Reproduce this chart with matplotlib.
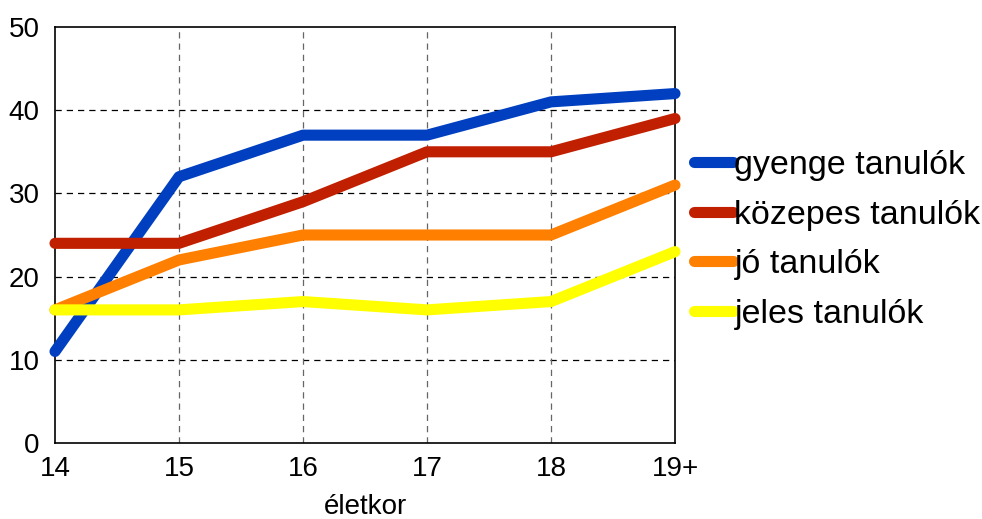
import matplotlib.pyplot as plt

plt.rcParams['font.family'] = ['Liberation Sans', 'DejaVu Sans']

# --- adatok ---
eletkor = ['14', '15', '16', '17', '18', '19+']
gyenge = [11, 32, 37, 37, 41, 42]
kozepes = [24, 24, 29, 35, 35, 39]
jo = [16, 22, 25, 25, 25, 31]
jeles = [16, 16, 17, 16, 17, 23]

sorozatok = [
    ('gyenge tanulók', gyenge, '#0040c0'),
    ('közepes tanulók', kozepes, '#c02000'),
    ('jó tanulók', jo, '#ff8000'),
    ('jeles tanulók', jeles, '#ffff00'),
]

fig = plt.figure(figsize=(9.82, 5.19), dpi=100)
ax = fig.add_axes([55 / 982, 1 - 443 / 519, 620 / 982, 416 / 519])

x = range(len(eletkor))
for nev, ertek, szin in sorozatok:
    ax.plot(x, ertek, color=szin, linewidth=8, solid_capstyle='round',
            solid_joinstyle='round', label=nev, clip_on=False, zorder=3)

ax.set_xlim(0, len(eletkor) - 1)
ax.set_ylim(0, 50)
ax.set_xticks(list(x))
ax.set_xticklabels(eletkor)
ax.set_yticks(range(0, 51, 10))
ax.tick_params(length=0, labelsize=20)
ax.tick_params(axis='y', pad=11)
ax.tick_params(axis='x', pad=9)

# rácsvonalak
for yv in range(10, 50, 10):
    ax.axhline(yv, color='black', linestyle=(0, (5, 4)), linewidth=0.9, zorder=1)
for xv in range(1, len(eletkor) - 1):
    ax.axvline(xv, color='#666666', linestyle=(0, (5, 4)), linewidth=0.9, zorder=1)

for s in ax.spines.values():
    s.set_linewidth(1.2)
    s.set_color('black')

ax.set_xlabel('életkor', fontsize=20, labelpad=9)

ax.legend(loc='center left', bbox_to_anchor=(1.03, 0.488), frameon=False,
          fontsize=24.5, handlelength=1.15, handletextpad=0.05,
          labelspacing=0.55, borderaxespad=0, borderpad=0)

fig.savefig('out.png', dpi=100)
